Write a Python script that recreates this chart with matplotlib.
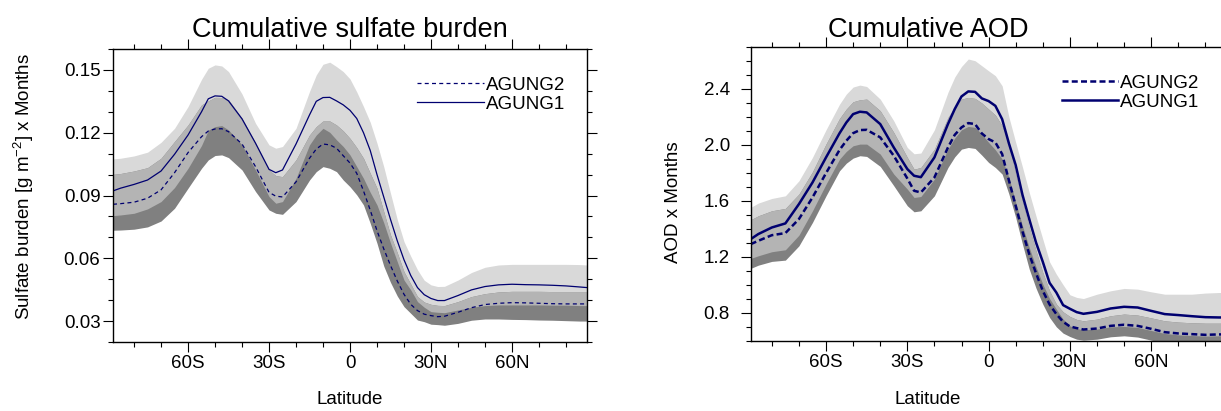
import numpy as np
import matplotlib
import matplotlib.pyplot as plt
from matplotlib.ticker import MultipleLocator, FixedLocator, FormatStrFormatter

matplotlib.use("agg")

plt.rcParams["font.family"] = ["Liberation Sans", "DejaVu Sans"]
plt.rcParams["mathtext.fontset"] = "custom"
plt.rcParams["mathtext.rm"] = "Liberation Sans"
plt.rcParams["mathtext.it"] = "Liberation Sans:italic"

# latitude grid (degrees, south negative), denser around the peaks
lat = [-87.8, -85, -80, -75, -70, -65, -60, -55,
       -52.5, -50, -47.5, -45,
       -40, -35, -30, -27.5, -25,
       -20, -15, -12.5, -10, -7.5, -5, -2.5, 0,
       2.5, 5, 7.5, 10, 12.5, 15, 17.5, 20, 22.5, 25, 27.5, 30, 32.5, 35,
       40, 45, 50, 55, 60, 65, 70, 75, 80, 85, 87.8]
lat_ticks = [-60, -30, 0, 30, 60]
lat_labels = ["60S", "30S", "0", "30N", "60N"]

# cumulative sulfate burden [g m-2 x months]
burden_a1 = [0.0922, 0.0935, 0.0953, 0.0974, 0.1017, 0.1097, 0.1189, 0.1300,
             0.1362, 0.1376, 0.1374, 0.1352,
             0.1266, 0.1150, 0.1025, 0.1009, 0.1022,
             0.1146, 0.1285, 0.1350, 0.1368, 0.1369, 0.1352, 0.1333, 0.1307,
             0.1268, 0.1200, 0.1115, 0.1000, 0.0893, 0.0786, 0.0684, 0.0593, 0.0518,
             0.0460, 0.0426, 0.0408, 0.0398, 0.0398,
             0.0422, 0.0449, 0.0465, 0.0473, 0.0476, 0.0474, 0.0473, 0.0471, 0.0468, 0.0463, 0.0460]
burden_a1_hi = [0.1075, 0.1078, 0.1089, 0.1107, 0.1154, 0.1221, 0.1325, 0.1455,
                0.1508, 0.1524, 0.1519, 0.1492,
                0.1385, 0.1245, 0.1142, 0.1126, 0.1134,
                0.1221, 0.1397, 0.1476, 0.1527, 0.1537, 0.1516, 0.1492, 0.1457,
                0.1395, 0.1325, 0.1250, 0.1150, 0.1038, 0.0911, 0.0786, 0.0680, 0.0610,
                0.0545, 0.0495, 0.0473, 0.0465, 0.0466,
                0.0496, 0.0532, 0.0557, 0.0568, 0.0571, 0.0571, 0.0571, 0.0571, 0.0571, 0.0570, 0.0568]
burden_a1_lo = [0.0804, 0.0807, 0.0815, 0.0836, 0.0871, 0.0938, 0.1030, 0.1139,
                0.1212, 0.1229, 0.1234, 0.1213,
                0.1142, 0.1022, 0.0895, 0.0863, 0.0871,
                0.0982, 0.1142, 0.1189, 0.1221, 0.1202, 0.1166, 0.1134, 0.1094,
                0.1038, 0.0982, 0.0915, 0.0855, 0.0770, 0.0673, 0.0584, 0.0496, 0.0449,
                0.0393, 0.0366, 0.0345, 0.0342, 0.0340,
                0.0353, 0.0366, 0.0374, 0.0377, 0.0377, 0.0377, 0.0377, 0.0376, 0.0376, 0.0374, 0.0374]
burden_a2 = [0.0858, 0.0861, 0.0868, 0.0887, 0.0927, 0.1009, 0.1105, 0.1181,
             0.1208, 0.1218, 0.1219, 0.1205,
             0.1146, 0.1038, 0.0915, 0.0897, 0.0893,
             0.0965, 0.1078, 0.1122, 0.1146, 0.1142, 0.1126, 0.1090, 0.1055,
             0.1006, 0.0922, 0.0830, 0.0732, 0.0645, 0.0566, 0.0492, 0.0428, 0.0380,
             0.0350, 0.0333, 0.0326, 0.0321, 0.0323,
             0.0342, 0.0364, 0.0379, 0.0385, 0.0388, 0.0387, 0.0385, 0.0383, 0.0382, 0.0382, 0.0382]
burden_a2_hi = [0.1001, 0.1005, 0.1017, 0.1033, 0.1078, 0.1158, 0.1237, 0.1333,
                0.1352, 0.1369, 0.1368, 0.1357,
                0.1269, 0.1150, 0.1022, 0.0995, 0.0990,
                0.1070, 0.1189, 0.1229, 0.1256, 0.1256, 0.1237, 0.1209, 0.1173,
                0.1129, 0.1078, 0.1006, 0.0935, 0.0823, 0.0712, 0.0627, 0.0536, 0.0477,
                0.0417, 0.0391, 0.0380, 0.0375, 0.0374,
                0.0393, 0.0417, 0.0431, 0.0439, 0.0442, 0.0442, 0.0442, 0.0441, 0.0441, 0.0441, 0.0441]
burden_a2_lo = [0.0734, 0.0735, 0.0739, 0.0750, 0.0778, 0.0839, 0.0935, 0.1030,
                0.1070, 0.1091, 0.1094, 0.1081,
                0.1022, 0.0919, 0.0831, 0.0815, 0.0810,
                0.0871, 0.0974, 0.1014, 0.1038, 0.1030, 0.1014, 0.0974, 0.0942,
                0.0903, 0.0855, 0.0767, 0.0672, 0.0563, 0.0485, 0.0420, 0.0369, 0.0337,
                0.0305, 0.0297, 0.0285, 0.0283, 0.0280,
                0.0289, 0.0304, 0.0310, 0.0310, 0.0308, 0.0307, 0.0305, 0.0304, 0.0302, 0.0300, 0.0300]

# cumulative AOD [x months]
aod_a1 = [1.327, 1.363, 1.410, 1.439, 1.577, 1.731, 1.910, 2.083,
          2.159, 2.219, 2.236, 2.231,
          2.148, 1.981, 1.827, 1.779, 1.769,
          1.910, 2.148, 2.255, 2.345, 2.381, 2.378, 2.331, 2.312,
          2.278, 2.183, 2.010, 1.855, 1.643, 1.470, 1.303, 1.165, 1.015,
          0.946, 0.856, 0.830, 0.806, 0.794,
          0.808, 0.832, 0.844, 0.839, 0.815, 0.792, 0.785, 0.777, 0.770, 0.768, 0.768]
aod_a1_hi = [1.553, 1.584, 1.617, 1.636, 1.743, 1.910, 2.107, 2.290,
             2.362, 2.412, 2.426, 2.416,
             2.326, 2.171, 1.981, 1.936, 1.941,
             2.107, 2.374, 2.483, 2.559, 2.612, 2.600, 2.564, 2.528,
             2.493, 2.421, 2.198, 2.017, 1.841, 1.660, 1.491, 1.327, 1.165,
             1.077, 1.001, 0.930, 0.911, 0.903,
             0.934, 0.958, 0.975, 0.970, 0.951, 0.934, 0.934, 0.934, 0.942, 0.946, 0.946]
aod_a1_lo = [1.189, 1.208, 1.237, 1.251, 1.355, 1.529, 1.719, 1.898,
             1.953, 1.993, 2.005, 2.005,
             1.934, 1.791, 1.684, 1.624, 1.631,
             1.755, 1.969, 2.048, 2.107, 2.131, 2.124, 2.076, 2.017,
             1.964, 1.898, 1.767, 1.589, 1.422, 1.267, 1.129, 1.006, 0.903,
             0.827, 0.756, 0.708, 0.689, 0.680,
             0.685, 0.701, 0.704, 0.697, 0.675, 0.654, 0.644, 0.639, 0.635, 0.637, 0.637]
aod_a2 = [1.291, 1.315, 1.355, 1.370, 1.470, 1.624, 1.798, 1.964,
          2.029, 2.083, 2.105, 2.107,
          2.053, 1.922, 1.760, 1.672, 1.660,
          1.767, 1.981, 2.071, 2.124, 2.155, 2.148, 2.081, 2.041,
          2.017, 1.934, 1.746, 1.565, 1.382, 1.220, 1.084, 0.958, 0.861,
          0.792, 0.737, 0.704, 0.692, 0.682,
          0.689, 0.708, 0.716, 0.708, 0.687, 0.663, 0.654, 0.649, 0.644, 0.647, 0.647]
aod_a2_hi = [1.465, 1.493, 1.529, 1.546, 1.648, 1.807, 2.005, 2.188,
             2.255, 2.307, 2.321, 2.326,
             2.243, 2.088, 1.910, 1.826, 1.838,
             1.969, 2.195, 2.267, 2.326, 2.338, 2.331, 2.298, 2.255,
             2.212, 2.136, 2.017, 1.791, 1.600, 1.410, 1.244, 1.089, 0.958,
             0.863, 0.808, 0.775, 0.754, 0.744,
             0.756, 0.780, 0.792, 0.785, 0.765, 0.744, 0.735, 0.730, 0.727, 0.727, 0.727]
aod_a2_lo = [1.118, 1.141, 1.168, 1.177, 1.279, 1.446, 1.636, 1.815,
             1.869, 1.905, 1.922, 1.917,
             1.846, 1.708, 1.565, 1.522, 1.529,
             1.636, 1.838, 1.914, 1.969, 1.981, 1.974, 1.926, 1.874,
             1.838, 1.791, 1.648, 1.482, 1.291, 1.113, 0.977, 0.863, 0.768,
             0.701, 0.656, 0.632, 0.613, 0.606,
             0.613, 0.630, 0.637, 0.628, 0.606, 0.582, 0.573, 0.566, 0.561, 0.561, 0.561]

LIGHT = "#d9d9d9"
MID = "#b4b4b4"
DARK = "#808080"
LINE = "#000070"


def draw_panel(ax, m1, hi1, lo1, m2, hi2, lo2, lw, dash, handlelen, legend_xy):
    x = np.array(lat)
    hi1, lo1, hi2, lo2 = map(np.array, (hi1, lo1, hi2, lo2))
    # AGUNG1 range light, AGUNG2 range dark, overlap medium
    ax.fill_between(x, lo1, hi1, color=LIGHT, lw=0)
    ax.fill_between(x, lo2, hi2, color=DARK, lw=0)
    ov_lo = np.maximum(lo1, lo2)
    ov_hi = np.minimum(hi1, hi2)
    ax.fill_between(x, ov_lo, ov_hi, where=ov_hi > ov_lo, interpolate=True, color=MID, lw=0)

    h2, = ax.plot(x, m2, color=LINE, lw=lw, dashes=dash, label="AGUNG2")
    h1, = ax.plot(x, m1, color=LINE, lw=lw, label="AGUNG1")
    ax.legend(handles=[h2, h1], loc="upper left", bbox_to_anchor=legend_xy,
              frameon=False, fontsize=13.5, handlelength=handlelen, handletextpad=0.1,
              labelspacing=0.1, borderpad=0, borderaxespad=0)

    ax.set_xlim(-87.8, 87.8)
    ax.xaxis.set_major_locator(FixedLocator(lat_ticks))
    ax.set_xticklabels(lat_labels)
    ax.xaxis.set_minor_locator(MultipleLocator(10))
    ax.tick_params(which="both", direction="out", top=True, right=True,
                   width=0.8, labelsize=13.5, pad=2)
    ax.tick_params(which="major", length=7)
    ax.tick_params(which="minor", length=3.5)
    for sp in ax.spines.values():
        sp.set_linewidth(1.0)


fig = plt.figure(figsize=(12.21, 4.11), dpi=100)
W, H = 1221.0, 411.0

ax1 = fig.add_axes([113 / W, 69 / H, 474 / W, 293 / H])
draw_panel(ax1, burden_a1, burden_a1_hi, burden_a1_lo,
           burden_a2, burden_a2_hi, burden_a2_lo,
           0.9, (3.2, 2.6), 3.6, (0.641, 0.906))
ax1.set_ylim(0.02, 0.16)
ax1.yaxis.set_major_locator(MultipleLocator(0.03))
ax1.yaxis.set_minor_locator(MultipleLocator(0.01))
ax1.yaxis.set_major_formatter(FormatStrFormatter("%.2f"))
ax1.text(0.5, 1.064, "Cumulative sulfate burden", transform=ax1.transAxes,
         ha="center", va="center", fontsize=19.5)
ax1.text(0.5, -0.195, "Latitude", transform=ax1.transAxes,
         ha="center", va="center", fontsize=13.5)
ax1.text(-0.188, 0.532, r"Sulfate burden [g m$^{-2}$] x Months", transform=ax1.transAxes,
         ha="center", va="center", rotation=90, fontsize=13.5)

ax2 = fig.add_axes([750.7 / W, 70 / H, 475.8 / W, 294.3 / H])
draw_panel(ax2, aod_a1, aod_a1_hi, aod_a1_lo,
           aod_a2, aod_a2_hi, aod_a2_lo,
           1.8, (2.4, 1.3), 3.0, (0.654, 0.905))
ax2.set_ylim(0.6, 2.7)
ax2.yaxis.set_major_locator(MultipleLocator(0.4))
ax2.yaxis.set_minor_locator(MultipleLocator(0.1))
ax2.yaxis.set_major_formatter(FormatStrFormatter("%.1f"))
ax2.tick_params(axis="y", which="major", pad=8)
ax2.text(0.3726, 1.057, "Cumulative AOD", transform=ax2.transAxes,
         ha="center", va="center", fontsize=19.5)
ax2.text(0.3726, -0.198, "Latitude", transform=ax2.transAxes,
         ha="center", va="center", fontsize=13.5)
ax2.text(-0.163, 0.472, "AOD x Months", transform=ax2.transAxes,
         ha="center", va="center", rotation=90, fontsize=13.5)

fig.savefig("out.png", dpi=100)
